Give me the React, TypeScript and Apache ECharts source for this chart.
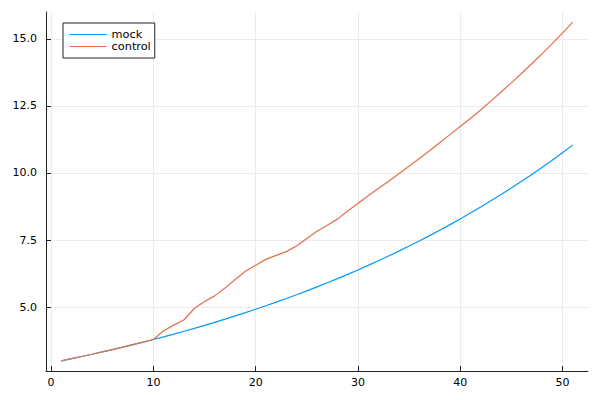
import React, { useEffect, useRef } from "react";
import * as echarts from "echarts";

const xs: number[] = Array.from({ length: 51 }, (_, i) => i + 1);

const mock: number[] = [
  3.0, 3.079, 3.161, 3.244, 3.33, 3.418, 3.508, 3.6, 3.695, 3.793,
  3.893, 3.996, 4.101, 4.21, 4.321, 4.435, 4.552, 4.673, 4.796, 4.922,
  5.052, 5.186, 5.323, 5.463, 5.607, 5.755, 5.907, 6.063, 6.223, 6.387,
  6.556, 6.729, 6.907, 7.089, 7.276, 7.468, 7.665, 7.867, 8.075, 8.288,
  8.507, 8.731, 8.962, 9.198, 9.441, 9.69, 9.946, 10.208, 10.478, 10.754,
  11.038,
];

const control: number[] = [
  3.0, 3.079, 3.161, 3.244, 3.33, 3.418, 3.508, 3.6, 3.695, 3.793,
  4.12, 4.33, 4.53, 4.95, 5.21, 5.42, 5.71, 6.03, 6.34, 6.56,
  6.78, 6.93, 7.07, 7.28, 7.56, 7.83, 8.05, 8.28, 8.58, 8.86,
  9.15, 9.42, 9.69, 9.97, 10.25, 10.54, 10.83, 11.13, 11.43, 11.73,
  12.03, 12.35, 12.68, 13.02, 13.36, 13.71, 14.07, 14.44, 14.82, 15.21,
  15.62,
];

const xTicks: number[] = [0, 10, 20, 30, 40, 50];
const yTicks: number[] = [5, 7.5, 10, 12.5, 15];

const FONT = "DejaVu Sans";
const BLUE = "#009AFA";
const ORANGE = "#E36F47";

export default function App() {
  const ref = useRef<HTMLDivElement>(null);
  useEffect(() => {
    if (!ref.current) return;
    const chart = echarts.init(ref.current, null, { renderer: "svg" });
    const gridLine = { show: true, lineStyle: { color: "#ebebeb", width: 1 } };
    const axisColor = "#222";
    chart.setOption({
      animation: false,
      backgroundColor: "#ffffff",
      grid: { left: 46, right: 12, top: 12, bottom: 29 },
      legend: {
        orient: "vertical",
        left: 63,
        top: 23,
        padding: [6, 4, 6, 6],
        itemGap: 1,
        itemWidth: 37,
        itemHeight: 11,
        borderColor: "#222",
        borderWidth: 1,
        backgroundColor: "#fff",
        itemStyle: { opacity: 0 },
        lineStyle: { width: 1.2 },
        textStyle: { fontFamily: FONT, fontSize: 11.3, color: "#000" },
        data: ["mock", "control"],
      },
      xAxis: {
        type: "value",
        min: -0.5,
        max: 52.5,
        axisLine: { show: true, onZero: false, lineStyle: { color: axisColor, width: 1 } },
        axisTick: { show: true, inside: true, length: 5, customValues: xTicks, lineStyle: { color: axisColor } },
        axisLabel: {
          customValues: xTicks,
          fontFamily: FONT,
          fontSize: 11,
          color: "#000",
          margin: 6,
        },
        splitLine: gridLine,
      },
      yAxis: {
        type: "value",
        min: 2.62,
        max: 16.0,
        axisLine: { show: true, onZero: false, lineStyle: { color: axisColor, width: 1 } },
        axisTick: { show: true, inside: true, length: 5, customValues: yTicks, lineStyle: { color: axisColor } },
        axisLabel: {
          customValues: yTicks,
          fontFamily: FONT,
          fontSize: 11,
          color: "#000",
          margin: 9,
          formatter: (v: number) => v.toFixed(1),
        },
        splitLine: gridLine,
      },
      series: [
        {
          name: "mock",
          type: "line",
          data: xs.map((x, i) => [x, mock[i]]),
          symbol: "none",
          lineStyle: { color: BLUE, width: 1.2 },
          itemStyle: { color: BLUE },
        },
        {
          name: "control",
          type: "line",
          data: xs.map((x, i) => [x, control[i]]),
          symbol: "none",
          lineStyle: { color: ORANGE, width: 1.2 },
          itemStyle: { color: ORANGE },
        },
      ],
    });
    return () => chart.dispose();
  }, []);
  return (
    <div
      ref={ref}
      style={{ position: "fixed", left: 0, top: 0, width: 600, height: 400 }}
    />
  );
}
